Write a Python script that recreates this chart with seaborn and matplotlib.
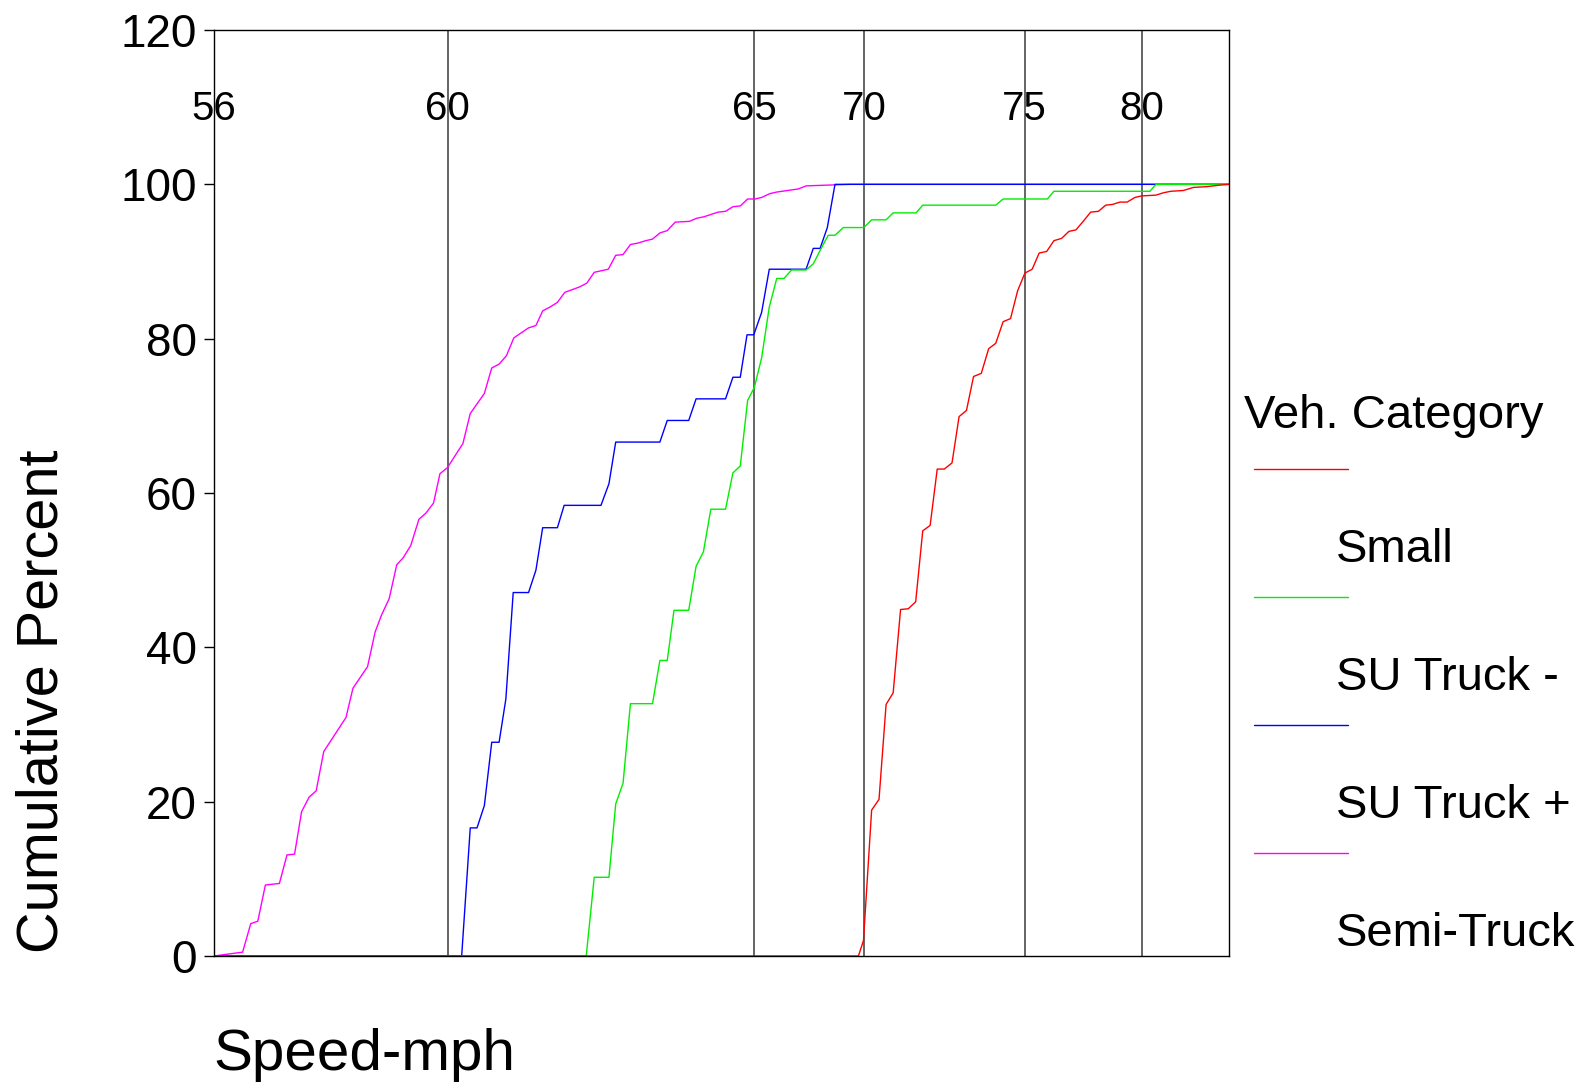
import numpy as np
import pandas as pd
import matplotlib
matplotlib.use("Agg")
import matplotlib.pyplot as plt
import seaborn as sns
from matplotlib.lines import Line2D
from matplotlib.legend_handler import HandlerBase
from matplotlib.ticker import NullLocator

# ---- cumulative speed distributions per vehicle category ----
CATEGORIES = ["Small", "SU Truck -", "SU Truck +", "Semi-Truck"]
COLORS = {"Small": "#ff0000", "SU Truck -": "#00ee00",
          "SU Truck +": "#0000ff", "Semi-Truck": "#ff00ff"}

SMALL_MPH = [56.0, 69.75, 69.98, 70.24, 70.47, 70.69, 70.91, 71.14, 71.38, 71.61,
             71.83, 72.06, 72.28, 72.50, 72.74, 72.96, 73.19, 73.41, 73.65, 73.88,
             74.10, 74.33, 74.56, 74.78, 75.01, 75.32, 75.62, 75.94, 76.25, 76.58,
             76.89, 77.19, 77.50, 77.82, 78.15, 78.46, 78.76, 79.07, 79.38, 79.71,
             80.00, 80.61, 80.92, 81.24, 81.78, 82.21, 82.78, 83.35, 83.73]
SMALL_PCT = [0, 0, 2.0, 18.9, 20.3, 32.6, 34.1, 44.9, 45.0, 45.9,
             55.1, 55.8, 63.1, 63.1, 63.9, 69.9, 70.7, 75.1, 75.5, 78.7,
             79.4, 82.2, 82.6, 86.2, 88.5, 89.0, 91.1, 91.3, 92.7, 93.0,
             93.9, 94.1, 95.2, 96.4, 96.5, 97.3, 97.4, 97.7, 97.7, 98.3,
             98.5, 98.6, 98.9, 99.1, 99.2, 99.6, 99.7, 99.9, 100]

SU_MINUS_MPH = [56.0, 62.26, 62.39, 62.63, 62.74, 62.86, 62.98, 63.34, 63.46, 63.58,
                63.69, 63.93, 64.05, 64.17, 64.29, 64.53, 64.65, 64.77, 64.89, 65.00,
                65.33, 65.68, 66.02, 66.35, 66.70, 67.36, 67.69, 68.03, 68.37, 68.68,
                69.06, 70.00, 70.24, 70.69, 70.91, 71.62, 71.83, 74.10, 74.33, 75.97,
                76.25, 80.35, 80.61, 83.73]
SU_MINUS_PCT = [0, 0, 10.2, 10.2, 19.7, 22.4, 32.7, 32.7, 38.3, 38.3,
                44.8, 44.8, 50.5, 52.4, 57.9, 57.9, 62.6, 63.5, 72.0, 73.7,
                77.5, 84.1, 87.8, 87.8, 88.9, 88.9, 89.7, 91.6, 93.4, 93.4,
                94.4, 94.4, 95.4, 95.4, 96.3, 96.3, 97.3, 97.3, 98.1, 98.1,
                99.1, 99.1, 100, 100]

SU_PLUS_MPH = [56.0, 60.23, 60.37, 60.48, 60.60, 60.72, 60.84, 60.95, 61.07, 61.32,
               61.44, 61.55, 61.79, 61.90, 62.50, 62.63, 62.74, 63.46, 63.58, 63.93,
               64.05, 64.53, 64.65, 64.77, 64.88, 64.99, 65.33, 65.68, 67.36, 67.69,
               68.00, 68.33, 68.68, 83.73]
SU_PLUS_PCT = [0, 0, 16.6, 16.6, 19.5, 27.7, 27.7, 33.3, 47.1, 47.1,
               50.0, 55.5, 55.5, 58.4, 58.4, 61.2, 66.6, 66.6, 69.4, 69.4,
               72.2, 72.2, 75.0, 75.0, 80.5, 80.5, 83.4, 89.0, 89.0, 91.7,
               91.7, 94.4, 100, 100]

SEMI_MPH = [56.00, 56.49, 56.63, 56.75, 56.88, 57.12, 57.25, 57.38, 57.50, 57.63,
            57.75, 57.88, 58.26, 58.38, 58.63, 58.76, 58.87, 59.00, 59.13, 59.24,
            59.37, 59.51, 59.63, 59.76, 59.87, 60.00, 60.12, 60.25, 60.37, 60.60,
            60.72, 60.84, 60.96, 61.08, 61.32, 61.44, 61.55, 61.67, 61.79, 61.91,
            62.15, 62.27, 62.39, 62.62, 62.74, 62.86, 62.98, 63.11, 63.23, 63.34,
            63.46, 63.58, 63.71, 63.94, 64.06, 64.18, 64.41, 64.53, 64.65, 64.77,
            64.89, 65.03, 65.33, 65.71, 66.02, 67.00, 67.36, 69.37, 83.73]
SEMI_PCT = [0, 0.5, 4.2, 4.5, 9.2, 9.4, 13.1, 13.2, 18.7, 20.6,
            21.4, 26.5, 30.9, 34.7, 37.5, 42.0, 44.2, 46.3, 50.7, 51.6,
            53.2, 56.6, 57.4, 58.7, 62.5, 63.3, 64.8, 66.4, 70.3, 72.9,
            76.2, 76.7, 77.8, 80.1, 81.4, 81.7, 83.6, 84.1, 84.7, 86.0,
            86.7, 87.2, 88.6, 89.0, 90.8, 90.9, 92.2, 92.4, 92.7, 92.9,
            93.7, 94.0, 95.1, 95.2, 95.6, 95.8, 96.4, 96.5, 97.1, 97.2,
            98.1, 98.1, 98.3, 98.8, 99.0, 99.4, 99.8, 100, 100]

SPEED_TICKS = [56, 60, 65, 70, 75, 80]
Y_TICKS = [0, 20, 40, 60, 80, 100, 120]

series = {
    "Small": (SMALL_MPH, SMALL_PCT),
    "SU Truck -": (SU_MINUS_MPH, SU_MINUS_PCT),
    "SU Truck +": (SU_PLUS_MPH, SU_PLUS_PCT),
    "Semi-Truck": (SEMI_MPH, SEMI_PCT),
}
frames = []
for cat, (mph, pct) in series.items():
    frames.append(pd.DataFrame({"Speed-mph": mph, "Cumulative Percent": pct,
                                "Veh. Category": cat}))
df = pd.concat(frames, ignore_index=True)

# ---- speed axis: stretched piecewise around the observed speed classes ----
KNOT_MPH = np.array([56.0, 60.0, 65.0, 70.0, 75.0, 80.0, 83.73])
KNOT_POS = np.array([0.0, 0.2301, 0.5324, 0.6403, 0.7987, 0.9140, 1.0])
_ls = (KNOT_POS[1] - KNOT_POS[0]) / (KNOT_MPH[1] - KNOT_MPH[0])
_rs = (KNOT_POS[-1] - KNOT_POS[-2]) / (KNOT_MPH[-1] - KNOT_MPH[-2])
EXT_MPH = np.concatenate([[KNOT_MPH[0] - 1000], KNOT_MPH, [KNOT_MPH[-1] + 1000]])
EXT_POS = np.concatenate([[KNOT_POS[0] - 1000 * _ls], KNOT_POS, [KNOT_POS[-1] + 1000 * _rs]])


def speed_to_pos(v):
    return np.interp(np.asarray(v, dtype=float), EXT_MPH, EXT_POS)


def pos_to_speed(p):
    return np.interp(np.asarray(p, dtype=float), EXT_POS, EXT_MPH)


sns.set_theme(style="white")
plt.rcParams["font.family"] = ["Liberation Sans", "DejaVu Sans"]

fig = plt.figure(figsize=(15.88, 10.84), dpi=100)
ax = fig.add_axes([214 / 1588, 1 - 956 / 1084, 1015 / 1588, 926 / 1084])
ax.set_xscale("function", functions=(speed_to_pos, pos_to_speed))

# later hues are drawn on top
draw_order = ["Semi-Truck", "SU Truck +", "SU Truck -", "Small"]
sns.lineplot(data=df, x="Speed-mph", y="Cumulative Percent", hue="Veh. Category",
             hue_order=draw_order, palette=COLORS, sort=False, estimator=None,
             units="Veh. Category", linewidth=1.0, legend=False, ax=ax)

ax.set_xlim(KNOT_MPH[0], KNOT_MPH[-1])
ax.set_ylim(0, 120)
ax.set_xticks(SPEED_TICKS)
ax.set_xticklabels([str(t) for t in SPEED_TICKS])
ax.xaxis.set_minor_locator(NullLocator())
ax.set_yticks(Y_TICKS)
ax.set_yticklabels([str(t) for t in Y_TICKS])

ax.grid(axis="x", color="#3a3a3a", linewidth=1.1)
ax.grid(axis="y", visible=False)
ax.set_axisbelow(True)
for sp in ax.spines.values():
    sp.set_visible(True)
    sp.set_color("#000000")
    sp.set_linewidth(1.0)

ax.tick_params(axis="x", which="both", bottom=False, top=False, labelbottom=False,
               labeltop=True, length=0, pad=-70.6, labelsize=29, labelcolor="black")
ax.tick_params(axis="y", which="both", left=True, direction="out", length=7.2,
               width=1.0, color="#000000", pad=5, labelsize=33, labelcolor="black")
ax.set_xlabel("")
ax.set_ylabel("")

fig.text(42.5 / 1588, 1 - 701 / 1084, "Cumulative Percent", rotation=90,
         ha="center", va="center", fontsize=41.5, color="black")
fig.text(213 / 1588, 1 - 1055 / 1084, "Speed-mph", ha="left", va="center",
         fontsize=42, color="black")


class LineAboveLabel(HandlerBase):
    """Legend key drawn as a short line above its label."""

    def create_artists(self, legend, orig_handle, xdescent, ydescent, width,
                       height, fontsize, trans):
        y = (height - ydescent) / 2 + 1.61 * fontsize
        x0 = -xdescent + 0.21 * fontsize
        line = Line2D([x0, x0 + 2.0 * fontsize], [y, y],
                      color=orig_handle.get_color(), linewidth=1.0)
        line.set_transform(trans)
        return [line]


LEG_FS = 34
LEG_SPACING = 1.78
handles = [Line2D([], [], color=COLORS[c]) for c in CATEGORIES]
leg = ax.legend(handles, CATEGORIES, title="Veh. Category", loc="upper left",
                bbox_to_anchor=(1244 / 1588, 1 - 394.5 / 1084),
                bbox_transform=fig.transFigure, frameon=False, fontsize=LEG_FS,
                title_fontsize=LEG_FS, handlelength=2.0, handletextpad=-0.05,
                labelspacing=LEG_SPACING, borderpad=0, borderaxespad=0,
                alignment="left", handler_map={Line2D: LineAboveLabel()})
# a little extra room between the title and the first entry
leg._legend_box.sep = LEG_SPACING * LEG_FS + 3.6
leg.get_title().set_color("black")
for t in leg.get_texts():
    t.set_color("black")

fig.savefig("out.png", dpi=100, facecolor="white")
